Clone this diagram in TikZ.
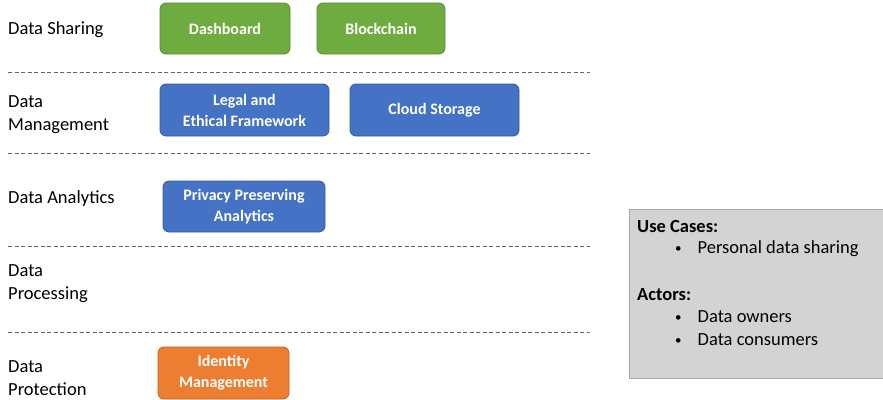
\documentclass[tikz,border=0pt]{standalone}
\usepackage{fontspec}
\setmainfont{Carlito}
\definecolor{dgreen}{HTML}{6FAC3F}
\definecolor{dblue}{HTML}{4472C4}
\definecolor{dorange}{HTML}{ED7D31}
\definecolor{panel}{HTML}{D3D3D3}
\newcommand{\pbul}{{\fontsize{13}{13}\selectfont\raisebox{1.2pt}{\textbullet}}\hspace{16pt}}
\begin{document}
\begin{tikzpicture}[x=1pt,y=-1pt,
  lbl/.style={anchor=west,align=left,font=\fontsize{18.5}{23}\selectfont,inner sep=0pt},
  comp/.style={rounded corners=6pt,draw=#1!80!black,fill=#1,line width=0.8pt},
  ctext/.style={text=white,font=\fontsize{16}{21}\selectfont\bfseries,align=center,inner sep=0pt},
  ptext/.style={anchor=west,inner sep=0pt,font=\fontsize{18.5}{22}\selectfont},
  sep/.style={dashed,dash pattern=on 4pt off 2.5pt,draw=gray!80!black,line width=0.9pt}]
\useasboundingbox (0,0) rectangle (883,399);
% separators
\coordinate (s1a) at (8,72);   \coordinate (s1b) at (590,72);
\coordinate (s2a) at (8,153);  \coordinate (s2b) at (590,153);
\coordinate (s3a) at (8,246);  \coordinate (s3b) at (590,246);
\coordinate (s4a) at (8,332);  \coordinate (s4b) at (590,332);
\draw[sep] (s1a) -- (s1b);
\draw[sep] (s2a) -- (s2b);
\draw[sep] (s3a) -- (s3b);
\draw[sep] (s4a) -- (s4b);
% layer labels
\node[lbl] (l1) at (8,30) {Data Sharing};
\node[lbl] (l2) at (8,115) {Data\\Management};
\node[lbl] (l3) at (8,199) {Data Analytics};
\node[lbl] (l4) at (8,284) {Data\\Processing};
\node[lbl] (l5) at (8,378) {Data\\Protection};
% components
\path[comp=dgreen] (160,3) rectangle (290,54);
\node[ctext] (dash) at (225,29) {Dashboard};
\path[comp=dgreen] (317,3) rectangle (445,54);
\node[ctext] (block) at (381,29) {Blockchain};
\path[comp=dblue] (160,84) rectangle (329,136);
\node[ctext] (legal) at (244.5,110) {Legal and\\Ethical Framework};
\path[comp=dblue] (350,84) rectangle (519,136);
\node[ctext] (cloud) at (434.5,110) {Cloud Storage};
\path[comp=dblue] (163,181) rectangle (325,232);
\node[ctext] (priv) at (244,206.5) {Privacy Preserving\\Analytics};
\path[comp=dorange] (158,347) rectangle (289,399);
\node[ctext] (idm) at (223.5,373) {Identity\\Management};
% info panel
\path[fill=panel,draw=gray!70,line width=0.8pt] (629,209) rectangle (883,378);
\node[ptext,font=\fontsize{18.5}{22}\selectfont\bfseries] (uc) at (637,226) {Use Cases:};
\node[ptext] (b1) at (675,249) {\pbul Personal data sharing};
\node[ptext,font=\fontsize{18.5}{22}\selectfont\bfseries] (ac) at (637,295) {Actors:};
\node[ptext] (b2) at (675,317) {\pbul Data owners};
\node[ptext] (b3) at (675,340) {\pbul Data consumers};
\end{tikzpicture}
\end{document}
